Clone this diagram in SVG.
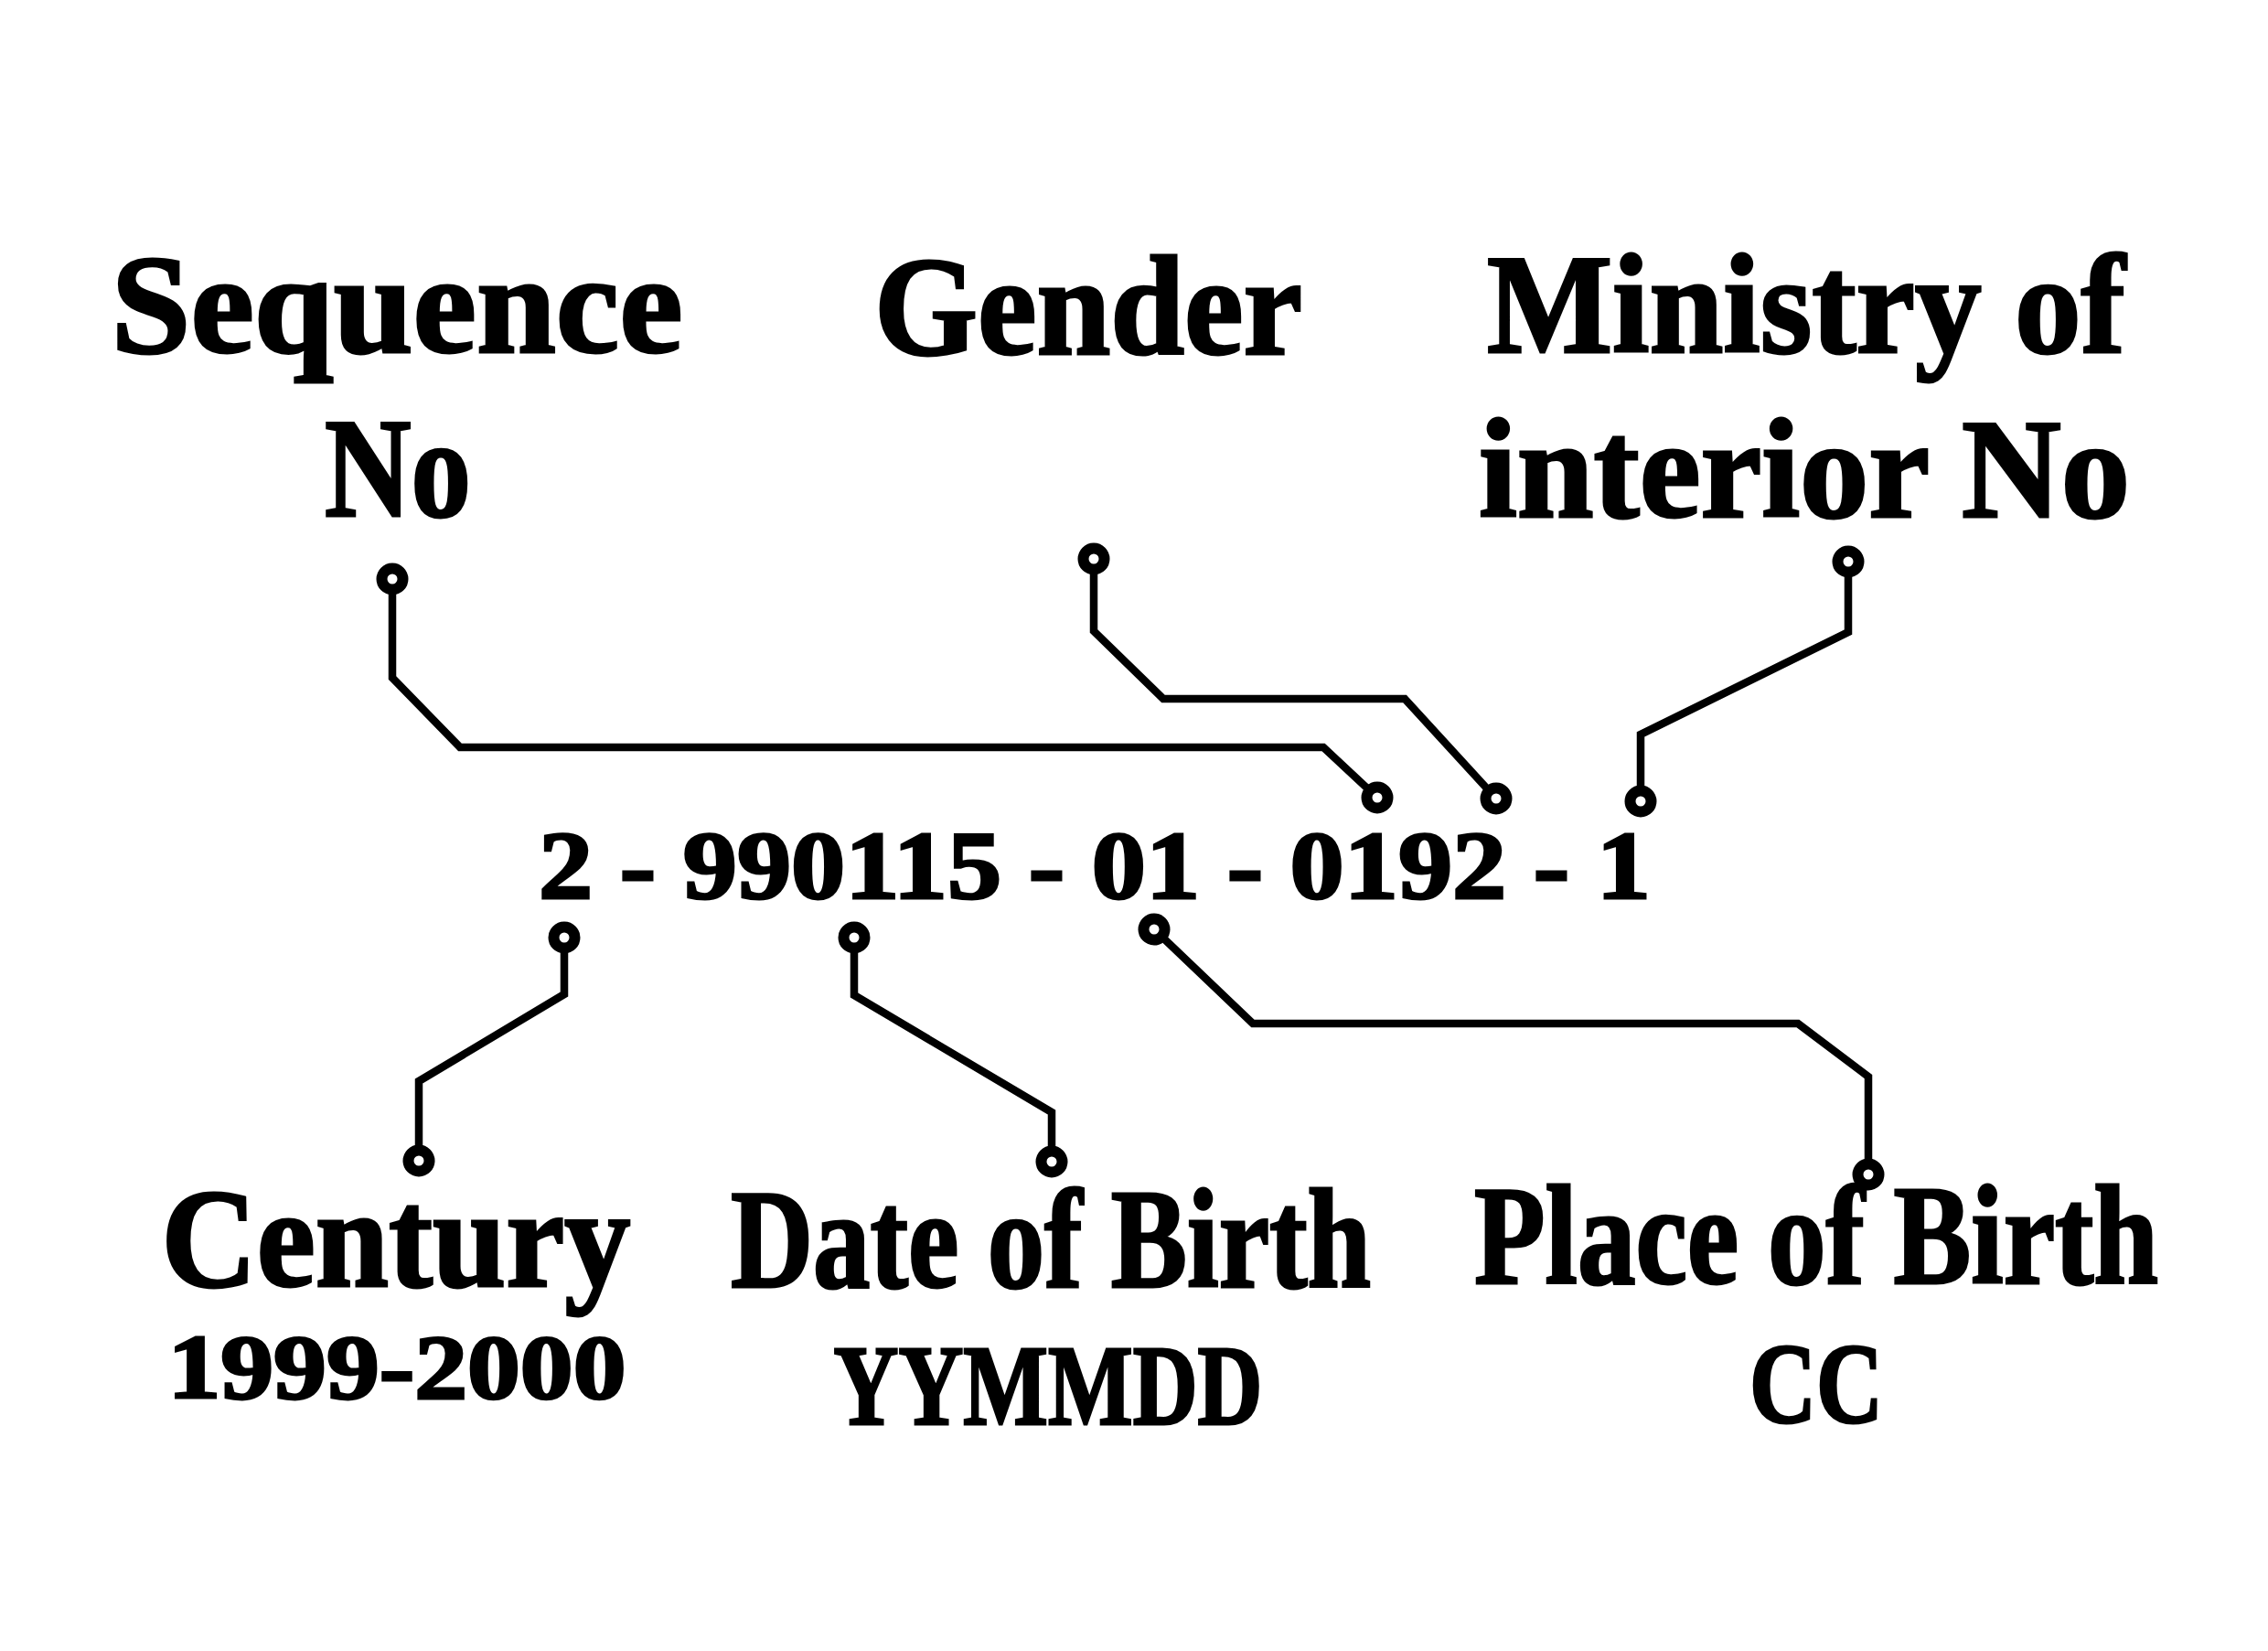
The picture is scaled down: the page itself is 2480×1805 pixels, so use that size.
<svg xmlns="http://www.w3.org/2000/svg" width="2480" height="1805" viewBox="0 0 2480 1805">
<style>
  text { font-family: "Liberation Serif", "Times New Roman", serif; font-weight: bold; fill: #000; stroke: #000; stroke-width: 3; text-anchor: middle; }
  .big { font-size: 154px; }
  .num { font-size: 106px; }
  .sub { font-size: 100px; }
  .sub2 { font-size: 125px; }
  .wire { fill: none; stroke: #000; stroke-width: 8.5; stroke-linejoin: miter; }
  .pad { fill: #fff; stroke: #000; stroke-width: 12; }
</style>
<rect width="2480" height="1805" fill="#fff"/>
<g id="sequence">
  <text class="big" x="434" y="385" textLength="625" lengthAdjust="spacingAndGlyphs">Sequence</text>
  <text class="big" x="435" y="564" textLength="160" lengthAdjust="spacingAndGlyphs">No</text>
</g>
<g id="gender">
  <text class="big" x="1190" y="387" textLength="468" lengthAdjust="spacingAndGlyphs">Gender</text>
</g>
<g id="ministry">
  <text class="big" x="1975" y="385" textLength="698" lengthAdjust="spacingAndGlyphs">Ministry of</text>
  <text class="big" x="1973" y="565" textLength="712" lengthAdjust="spacingAndGlyphs">interior No</text>
</g>
<g id="number">
  <text class="num" x="1197" y="982" textLength="1216" lengthAdjust="spacingAndGlyphs">2 - 990115 - 01 - 0192 - 1</text>
</g>
<g id="century">
  <text class="big" x="433" y="1406" textLength="513" lengthAdjust="spacingAndGlyphs">Century</text>
  <text class="sub" x="434" y="1528" textLength="501" lengthAdjust="spacingAndGlyphs">1999-2000</text>
</g>
<g id="dob">
  <text class="big" x="1149" y="1407" textLength="700" lengthAdjust="spacingAndGlyphs">Date of Birth</text>
  <text class="sub2" x="1146" y="1557" textLength="469" lengthAdjust="spacingAndGlyphs">YYMMDD</text>
</g>
<g id="pob">
  <text class="big" x="1986" y="1403" textLength="748" lengthAdjust="spacingAndGlyphs">Place of Birth</text>
  <text class="sub2" x="1986" y="1555" textLength="146" lengthAdjust="spacingAndGlyphs">CC</text>
</g>
<g id="connectors">
  <path class="wire" d="M429,633 V741 L503,817 H1447 L1506,872"/>
  <path class="wire" d="M1196,611 V690 L1272,764 H1536 L1636,873"/>
  <path class="wire" d="M2021,614 V691 L1794,803 V876"/>
  <path class="wire" d="M617,1025 V1087 L458,1182 V1269"/>
  <path class="wire" d="M934,1025 V1088 L1150,1216 V1270"/>
  <path class="wire" d="M1262,1016 L1370,1119 H1966 L2043,1177 V1284"/>
  <circle class="pad" cx="429" cy="633" r="11.5"/>
  <circle class="pad" cx="1506" cy="872" r="11.5"/>
  <circle class="pad" cx="1196" cy="611" r="11.5"/>
  <circle class="pad" cx="1636" cy="873" r="11.5"/>
  <circle class="pad" cx="2021" cy="614" r="11.5"/>
  <circle class="pad" cx="1794" cy="876" r="11.5"/>
  <circle class="pad" cx="617" cy="1025" r="11.5"/>
  <circle class="pad" cx="458" cy="1269" r="11.5"/>
  <circle class="pad" cx="934" cy="1025" r="11.5"/>
  <circle class="pad" cx="1150" cy="1270" r="11.5"/>
  <circle class="pad" cx="1262" cy="1016" r="11.5"/>
  <circle class="pad" cx="2043" cy="1284" r="11.5"/>
</g>
</svg>
